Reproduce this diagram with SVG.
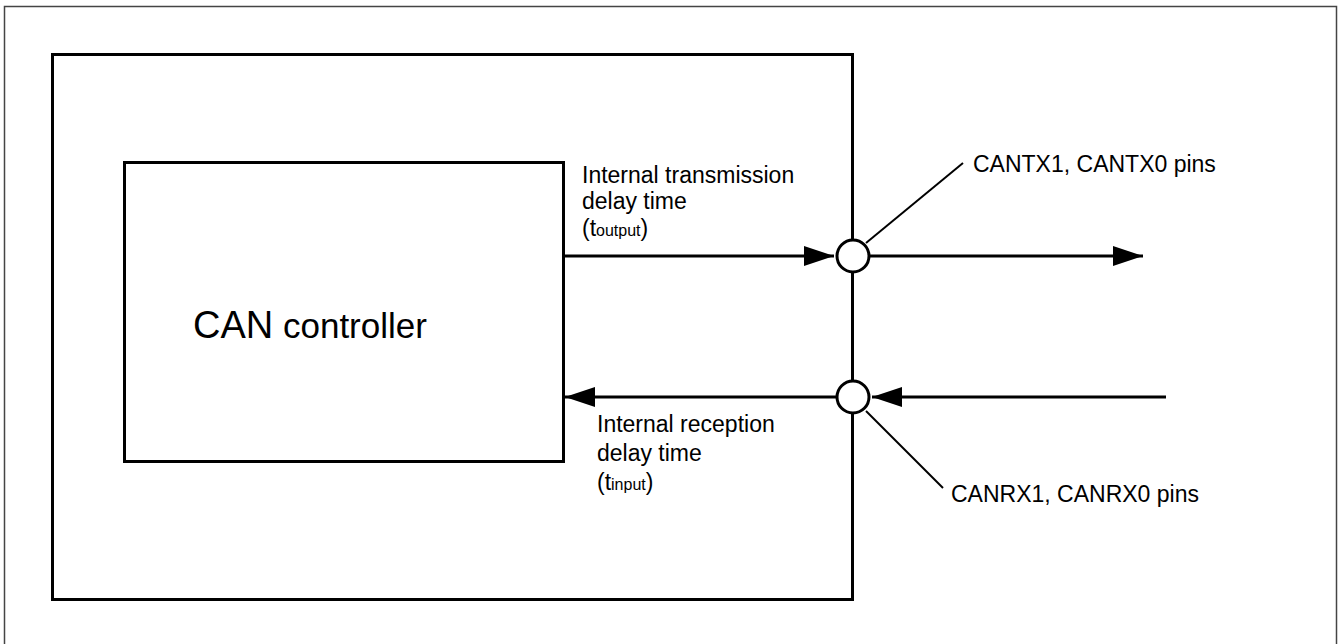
<svg xmlns="http://www.w3.org/2000/svg" width="1341" height="644" viewBox="0 0 1341 644">
<style>
.ln{stroke:#000;stroke-width:3;fill:none}
.thin{stroke:#000;stroke-width:2;fill:none}
.t{font-family:"Liberation Sans",Arial,sans-serif;fill:#000}
.lb{font-size:23px}
.sub{font-size:16px}
</style>
<defs>
<marker id="ah" markerWidth="30" markerHeight="20" refX="30" refY="10" orient="auto" markerUnits="userSpaceOnUse">
<path d="M0,0 L30,10 L0,20 Z" fill="#000"/>
</marker>
</defs>
<rect x="0" y="0" width="1341" height="644" fill="#fff"/>
<rect id="frame" x="4.5" y="6.5" width="1332" height="640" fill="none" stroke="#444" stroke-width="1.5"/>
<g id="chip"><rect class="ln" x="52.5" y="54.5" width="800" height="545"/></g>
<g id="can_controller">
<rect class="ln" x="124.5" y="162.5" width="439" height="299"/>
<text class="t" x="193" y="338"><tspan font-size="38">CAN</tspan><tspan font-size="35"> controller</tspan></text>
</g>
<g id="connectors">
<line class="ln" x1="563" y1="256" x2="834" y2="256" marker-end="url(#ah)"/>
<line class="ln" x1="870" y1="256" x2="1143" y2="256" marker-end="url(#ah)"/>
<line class="ln" x1="1166" y1="397" x2="872" y2="397" marker-end="url(#ah)"/>
<line class="ln" x1="836" y1="397" x2="565" y2="397" marker-end="url(#ah)"/>
<line class="thin" x1="866" y1="243" x2="963" y2="163"/>
<line class="thin" x1="866" y1="411" x2="943" y2="488"/>
</g>
<g id="pin_tx"><circle cx="853" cy="256" r="16" fill="#fff" stroke="#000" stroke-width="3"/></g>
<g id="pin_rx"><circle cx="853" cy="397" r="16" fill="#fff" stroke="#000" stroke-width="3"/></g>
<g id="label_tx">
<text class="t lb" x="582" y="183">Internal transmission</text>
<text class="t lb" x="582" y="209">delay time</text>
<text class="t lb" x="582" y="236">(t<tspan class="sub">output</tspan>)</text>
</g>
<g id="label_rx">
<text class="t lb" x="597" y="432">Internal reception</text>
<text class="t lb" x="597" y="461">delay time</text>
<text class="t lb" x="597" y="490">(t<tspan class="sub">input</tspan>)</text>
</g>
<g id="pin_labels">
<text class="t lb" x="973" y="172">CANTX1, CANTX0 pins</text>
<text class="t lb" x="951" y="502">CANRX1, CANRX0 pins</text>
</g>
</svg>
